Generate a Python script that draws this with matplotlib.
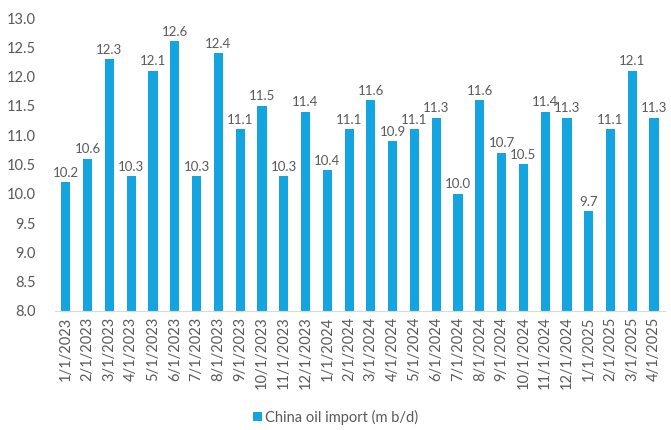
import matplotlib.pyplot as plt

months = [
    "1/1/2023", "2/1/2023", "3/1/2023", "4/1/2023", "5/1/2023", "6/1/2023", "7/1/2023",
    "8/1/2023", "9/1/2023", "10/1/2023", "11/1/2023", "12/1/2023",
    "1/1/2024", "2/1/2024", "3/1/2024", "4/1/2024", "5/1/2024", "6/1/2024", "7/1/2024",
    "8/1/2024", "9/1/2024", "10/1/2024", "11/1/2024", "12/1/2024",
    "1/1/2025", "2/1/2025", "3/1/2025", "4/1/2025",
]
imports = [
    10.2, 10.6, 12.3, 10.3, 12.1, 12.6, 10.3, 12.4, 11.1, 11.5, 10.3, 11.4,
    10.4, 11.1, 11.6, 10.9, 11.1, 11.3, 10.0, 11.6, 10.7, 10.5, 11.4, 11.3,
    9.7, 11.1, 12.1, 11.3,
]
yticks = [8.0, 8.5, 9.0, 9.5, 10.0, 10.5, 11.0, 11.5, 12.0, 12.5, 13.0]

plt.rcParams['font.family'] = ['Lato', 'DejaVu Sans']
text_color = '#595959'
bar_color = '#14A5E0'

fig = plt.figure(figsize=(6.71, 4.30), dpi=100)
ax = fig.add_axes([0.082, 0.277, 0.909, 0.681])

x = list(range(len(months)))
bars = ax.bar(x, [v - 8.0 for v in imports], bottom=8.0, width=0.42,
              color=bar_color, label='China oil import (m b/d)')

# value labels above each bar
for xi, v in zip(x, imports):
    ax.text(xi, v + 0.06, f"{v:.1f}", ha='center', va='bottom',
            fontsize=9.5, color=text_color)

ax.set_xlim(-0.5, len(months) - 0.5)
ax.set_ylim(8.0, 13.0)
ax.set_yticks(yticks)
ax.set_yticklabels([f"{t:.1f}" for t in yticks], fontsize=10.5, color=text_color)
ax.set_xticks(x)
ax.set_xticklabels(months, rotation=90, fontsize=10.5, color=text_color)
ax.tick_params(length=0, pad=4)
ax.tick_params(axis='y', pad=14)

for side in ['top', 'right', 'left']:
    ax.spines[side].set_visible(False)
ax.spines['bottom'].set_color('#D9D9D9')

fig.legend(handles=[bars], loc='lower center', bbox_to_anchor=(0.5, -0.018),
           frameon=False, fontsize=10.5, handlelength=0.6, handleheight=0.6,
           handletextpad=0.2, labelcolor=text_color)

fig.savefig('out.png', dpi=100)
